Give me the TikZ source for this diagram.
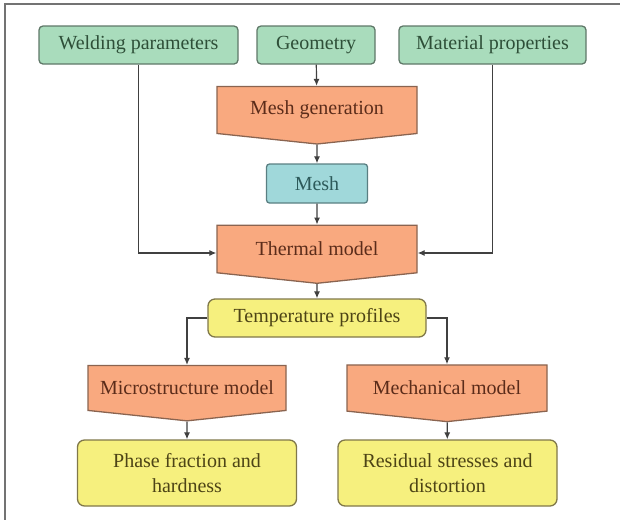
\documentclass[tikz,border=0pt]{standalone}
\usepackage{fontspec}
\setmainfont{LiberationSerif}[
    Extension=.ttf,
    UprightFont=*-Regular,
    BoldFont=*-Bold
]
\usetikzlibrary{arrows.meta,shapes.symbols,positioning}

\definecolor{inFill}{RGB}{169,220,188}
\definecolor{inLine}{RGB}{95,120,104}
\definecolor{inText}{RGB}{46,79,56}
\definecolor{modelFill}{RGB}{249,169,127}
\definecolor{modelLine}{RGB}{138,100,80}
\definecolor{modelText}{RGB}{91,44,26}
\definecolor{meshFill}{RGB}{160,216,218}
\definecolor{meshLine}{RGB}{90,127,130}
\definecolor{meshText}{RGB}{45,90,90}
\definecolor{outFill}{RGB}{246,240,126}
\definecolor{outLine}{RGB}{128,120,74}
\definecolor{outText}{RGB}{77,68,22}

\begin{document}
\begin{tikzpicture}[x=1pt,y=-1pt,
    every node/.style={
        font=\rmfamily\fontsize{20}{25}\selectfont,
        inner sep=0pt
    },
    inBox/.style={
        rectangle,
        rounded corners=4pt,
        draw=inLine,
        fill=inFill,
        text=inText,
        line width=1.3pt,
        minimum height=38pt
    },
    meshBox/.style={
        rectangle,
        rounded corners=3pt,
        draw=meshLine,
        fill=meshFill,
        text=meshText,
        line width=1.3pt,
        minimum width=101pt,
        minimum height=39pt
    },
    modelBox/.style={
        signal,
        signal to=south,
        signal pointer angle=168,
        draw=modelLine,
        fill=modelFill,
        text=modelText,
        line width=1.3pt,
        minimum width=200pt,
        minimum height=54pt
    },
    outBox/.style={
        rectangle,
        rounded corners=7pt,
        draw=outLine,
        fill=outFill,
        text=outText,
        line width=1.3pt,
        align=center
    },
    arr/.style={
        ->,
        >={Latex[length=7pt,width=6pt]},
        black!75,
        line width=1.2pt
    }
]

\draw[black!55, line width=2pt] (620,4) -- (5,4) -- (5,520);

\node[inBox, minimum width=199pt] (weld) at (138.5,45) {Welding parameters};
\node[inBox, minimum width=118pt] (geom) at (316,45) {Geometry};
\node[inBox, minimum width=187pt] (matl) at (492.5,45) {Material properties};

\node[modelBox] (meshgen) at (317,110) {Mesh generation};
\node[meshBox] (mesh) at (317,183.5) {Mesh};
\node[modelBox] (thermal) at (317,249) {Thermal model};

\node[outBox, minimum width=218pt, minimum height=38pt] (temp) at (317,318) {Temperature profiles};

\node[modelBox, minimum width=198pt] (micro) at (187,388) {Microstructure model};
\node[modelBox] (mech) at (447,388) {Mechanical model};

\node[outBox, minimum width=219pt, minimum height=66pt] (phase) at (187,473) {Phase fraction and\\hardness};
\node[outBox, minimum width=219pt, minimum height=66pt] (resid) at (447.5,473) {Residual stresses and\\distortion};

\draw[arr] (geom) -- (meshgen);
\draw[arr] (meshgen) -- (mesh);
\draw[arr] (mesh) -- (thermal);
\draw[arr] (weld.south) |- ([yshift=-4pt]thermal.west);
\draw[arr] (matl.south) |- ([yshift=-4pt]thermal.east);
\draw[arr] (thermal) -- (temp);
\draw[arr] (temp.west) -| (micro.north);
\draw[arr] (temp.east) -| (mech.north);
\draw[arr] (micro) -- (phase);
\draw[arr] (mech) -- (resid);

\pgfresetboundingbox
\path[use as bounding box] (0,0) rectangle (620,520);
\end{tikzpicture}
\end{document}
